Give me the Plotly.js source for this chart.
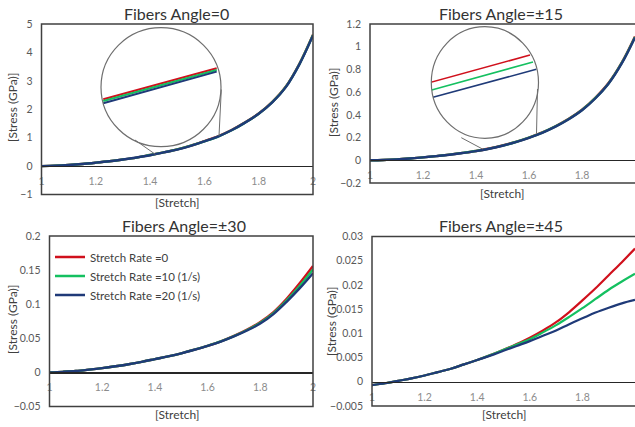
<!DOCTYPE html>
<html>
<head>
<meta charset="utf-8">
<script src="https://cdn.plot.ly/plotly-3.0.1.min.js"></script>
<style>html,body{margin:0;padding:0;background:#fff;}#chart{width:635px;height:427px;}</style>
</head>
<body>
<div id="chart"></div>
<script>
// ---------------- data ----------------
const stretch = [1.00, 1.05, 1.10, 1.15, 1.20, 1.25, 1.30, 1.35, 1.40, 1.45, 1.50,
                 1.55, 1.60, 1.65, 1.70, 1.75, 1.80, 1.85, 1.90, 1.95, 2.00];

const angle0_rate0  = [0, 0.015, 0.04, 0.075, 0.12, 0.17, 0.23, 0.30, 0.39, 0.48, 0.59, 0.72, 0.88, 1.05, 1.27, 1.54, 1.85, 2.26, 2.80, 3.60, 4.62];
const angle0_rate10 = [0, 0.015, 0.04, 0.075, 0.12, 0.17, 0.23, 0.30, 0.39, 0.48, 0.59, 0.72, 0.87, 1.04, 1.26, 1.53, 1.84, 2.25, 2.79, 3.59, 4.61];
const angle0_rate20 = [0, 0.015, 0.04, 0.075, 0.12, 0.17, 0.23, 0.30, 0.38, 0.48, 0.58, 0.71, 0.87, 1.04, 1.26, 1.53, 1.84, 2.24, 2.78, 3.58, 4.60];

const angle15_rate0  = [0, 0.003, 0.008, 0.016, 0.026, 0.037, 0.050, 0.065, 0.082, 0.104, 0.130, 0.162, 0.200, 0.245, 0.300, 0.365, 0.445, 0.550, 0.680, 0.860, 1.090];
const angle15_rate10 = [0, 0.003, 0.008, 0.016, 0.026, 0.037, 0.050, 0.065, 0.082, 0.103, 0.129, 0.161, 0.199, 0.244, 0.298, 0.363, 0.443, 0.547, 0.677, 0.857, 1.086];
const angle15_rate20 = [0, 0.003, 0.008, 0.016, 0.026, 0.037, 0.049, 0.064, 0.081, 0.102, 0.128, 0.160, 0.198, 0.242, 0.296, 0.361, 0.440, 0.544, 0.674, 0.853, 1.082];

const angle30_rate0  = [0, 0.0008, 0.002, 0.004, 0.0063, 0.009, 0.012, 0.0155, 0.0195, 0.0235, 0.028, 0.0333, 0.039, 0.0455, 0.0535, 0.0628, 0.0740, 0.0885, 0.1080, 0.1310, 0.1560];
const angle30_rate10 = [0, 0.0008, 0.002, 0.004, 0.0063, 0.009, 0.012, 0.0155, 0.0195, 0.0235, 0.028, 0.0333, 0.039, 0.0454, 0.0532, 0.0622, 0.0728, 0.0870, 0.1055, 0.1270, 0.1510];
const angle30_rate20 = [0, 0.0008, 0.002, 0.004, 0.0063, 0.009, 0.012, 0.0155, 0.0195, 0.0235, 0.028, 0.0332, 0.0388, 0.0452, 0.0528, 0.0615, 0.0716, 0.0855, 0.1035, 0.1235, 0.1455];

const angle45_rate0  = [-0.0007, -0.0003, 0.0002, 0.0007, 0.0013, 0.0020, 0.0027, 0.0036, 0.0045, 0.0055, 0.0066, 0.0078, 0.0091, 0.0106, 0.0123, 0.0144, 0.0168, 0.0193, 0.0220, 0.0247, 0.0275];
const angle45_rate10 = [-0.0007, -0.0003, 0.0002, 0.0007, 0.0013, 0.0020, 0.0027, 0.0036, 0.0045, 0.0055, 0.0066, 0.0077, 0.0088, 0.0102, 0.0117, 0.0134, 0.0152, 0.0171, 0.0190, 0.0207, 0.0223];
const angle45_rate20 = [-0.0007, -0.0003, 0.0002, 0.0007, 0.0013, 0.0020, 0.0027, 0.0036, 0.0045, 0.0054, 0.0064, 0.0074, 0.0084, 0.0095, 0.0106, 0.0119, 0.0131, 0.0143, 0.0153, 0.0162, 0.0169];

// magnified views shown in the two circles
const zoomA_x = [1.50, 1.60];
const zoomA_rate0  = [0.600, 0.700];
const zoomA_rate10 = [0.5945, 0.6945];
const zoomA_rate20 = [0.587, 0.6892];

const zoomB_x_rate0  = [1.4994, 1.5987];
const zoomB_x_rate10 = [1.5004, 1.6017];
const zoomB_x_rate20 = [1.5017, 1.6050];
const zoomB_rate0  = [0.1560, 0.1833];
const zoomB_rate10 = [0.1483, 0.1763];
const zoomB_rate20 = [0.1410, 0.1690];

const seriesNames = ['Stretch Rate =0', 'Stretch Rate =10 (1/s)', 'Stretch Rate =20 (1/s)'];
const panelTitles = ['Fibers Angle=0', 'Fibers Angle=±15', 'Fibers Angle=±30', 'Fibers Angle=±45'];
const xTitle = '[Stretch]';
const yTitle = '[Stress (GPa)]';

// ---------------- layout helpers ----------------
const W = 635, H = 427;
const px = v => v / W;
const py = v => 1 - v / H;
const colors = ['#D0101C', '#14C060', '#1F3A78'];
const FONT = 'Lato, "Open Sans", sans-serif';

const panels = [
  {l: 41.5, r: 313, t: 24,  b: 194.5, yr: [-1, 5],        dt: 1,     data: [angle0_rate0, angle0_rate10, angle0_rate20], lw: 2.4,
   title: [176, 13], xt: [177, 202], yt: [12, 108]},
  {l: 370,  r: 635, t: 24,  b: 183,   yr: [-0.2, 1.2],    dt: 0.2,   data: [angle15_rate0, angle15_rate10, angle15_rate20], lw: 2.4,
   title: [501, 13], xt: [503, 193.5], yt: [333, 103]},
  {l: 49.5, r: 313, t: 236, b: 406.5, yr: [-0.05, 0.2],   dt: 0.05,  data: [angle30_rate0, angle30_rate10, angle30_rate20], lw: 2.4,
   title: [184, 225], xt: [177, 414], yt: [12, 320]},
  {l: 372,  r: 635, t: 236.5, b: 406, yr: [-0.005, 0.03], dt: 0.005, data: [angle45_rate0, angle45_rate10, angle45_rate20], lw: 2.2,
   title: [501, 225], xt: [504, 414], yt: [331, 322]}
];

const traces = [];
const layout = {
  width: W, height: H,
  margin: {l: 0, r: 0, t: 0, b: 0},
  paper_bgcolor: '#ffffff',
  plot_bgcolor: 'rgba(0,0,0,0)',
  font: {family: FONT, color: '#404040'},
  showlegend: true,
  legend: {x: px(50), y: py(242.5), xanchor: 'left', yanchor: 'top',
           bgcolor: 'rgba(0,0,0,0)', font: {family: FONT, size: 11.5, color: '#404040'},
           tracegroupgap: 0, itemwidth: 30},
  shapes: [], annotations: []
};

panels.forEach((p, i) => {
  const n = i + 1;
  const xa = 'xaxis' + (n === 1 ? '' : n), ya = 'yaxis' + (n === 1 ? '' : n);
  const yDom = [py(p.b), py(p.t)];
  const zeroPos = yDom[0] + (0 - p.yr[0]) / (p.yr[1] - p.yr[0]) * (yDom[1] - yDom[0]);
  layout[xa] = {
    domain: [px(p.l), Math.min(1, px(p.r))], range: [1, 2], tick0: 1, dtick: 0.2,
    anchor: 'free', position: zeroPos,
    showline: true, linecolor: '#262626', linewidth: 1.2,
    ticks: '', showgrid: false, zeroline: false,
    tickfont: {family: FONT, size: 10.5, color: '#8c8c8c'}, ticklabelstandoff: 5
  };
  layout[ya] = {
    domain: yDom, range: p.yr, dtick: p.dt, anchor: 'x' + (n === 1 ? '' : n),
    showline: false, ticks: '', showgrid: false, zeroline: false,
    tickfont: {family: FONT, size: 10.5, color: '#595959'}, ticklabelstandoff: 8
  };
  p.data.forEach((ys, k) => {
    traces.push({
      x: stretch, y: ys, type: 'scatter', mode: 'lines',
      xaxis: 'x' + (n === 1 ? '' : n), yaxis: 'y' + (n === 1 ? '' : n),
      name: seriesNames[k], showlegend: n === 3,
      line: {color: colors[k], width: p.lw, shape: 'spline', smoothing: 1},
      hoverinfo: 'skip'
    });
  });
  // frame
  layout.shapes.push({type: 'rect', xref: 'paper', yref: 'paper',
    x0: px(p.l), x1: px(p.r) + (p.r >= 635 ? 0.01 : 0), y0: py(p.b), y1: py(p.t),
    line: {color: '#404040', width: 1.5}, fillcolor: 'rgba(0,0,0,0)', layer: 'above'});
  // titles
  layout.annotations.push({text: panelTitles[i], xref: 'paper', yref: 'paper',
    x: px(p.title[0]), y: py(p.title[1]), xanchor: 'center', yanchor: 'middle', showarrow: false,
    font: {family: FONT, size: 16, color: '#333333'}});
  layout.annotations.push({text: xTitle, xref: 'paper', yref: 'paper',
    x: px(p.xt[0]), y: py(p.xt[1]), xanchor: 'center', yanchor: 'middle', showarrow: false,
    font: {family: FONT, size: 12, color: '#404040'}});
  layout.annotations.push({text: yTitle, xref: 'paper', yref: 'paper', textangle: -90,
    x: px(p.yt[0]), y: py(p.yt[1]), xanchor: 'center', yanchor: 'middle', showarrow: false,
    font: {family: FONT, size: 12, color: '#404040'}});
});

// ---------------- magnifier insets ----------------
const insets = [
  {ax: 5, box: [101, 221, 27.7, 146.7], xr: [1.498, 1.6038], yr: [0.4471, 0.831],
   xs: [zoomA_x, zoomA_x, zoomA_x], ys: [zoomA_rate0, zoomA_rate10, zoomA_rate20], lw: 2,
   links: [[135, 140, 155.3, 154.3], [221.3, 89.5, 219, 136]]},
  {ax: 6, box: [431.3, 538.5, 26.7, 138.3], xr: [1.50, 1.6072], yr: [0.10, 0.2116],
   xs: [zoomB_x_rate0, zoomB_x_rate10, zoomB_x_rate20], ys: [zoomB_rate0, zoomB_rate10, zoomB_rate20], lw: 1.6,
   links: [[461.3, 137.7, 482.5, 149], [537.5, 89, 536.5, 133.5]]}
];
insets.forEach(ins => {
  const b = ins.box;
  layout['xaxis' + ins.ax] = {domain: [px(b[0]), px(b[1])], range: ins.xr, visible: false, anchor: 'y' + ins.ax};
  layout['yaxis' + ins.ax] = {domain: [py(b[3]), py(b[2])], range: ins.yr, visible: false, anchor: 'x' + ins.ax};
  ins.ys.forEach((ys, k) => {
    traces.push({x: ins.xs[k], y: ys, type: 'scatter', mode: 'lines',
      xaxis: 'x' + ins.ax, yaxis: 'y' + ins.ax, showlegend: false, hoverinfo: 'skip',
      line: {color: colors[k], width: ins.lw}});
  });
  layout.shapes.push({type: 'circle', xref: 'paper', yref: 'paper',
    x0: px(b[0]), x1: px(b[1]), y0: py(b[3]), y1: py(b[2]),
    line: {color: '#6e6e6e', width: 1.2}, fillcolor: 'rgba(0,0,0,0)'});
  ins.links.forEach(L => {
    layout.shapes.push({type: 'line', xref: 'paper', yref: 'paper',
      x0: px(L[0]), y0: py(L[1]), x1: px(L[2]), y1: py(L[3]),
      line: {color: '#6e6e6e', width: 1}});
  });
});

Plotly.newPlot('chart', traces, layout, {staticPlot: true, displayModeBar: false});
</script>
</body>
</html>
